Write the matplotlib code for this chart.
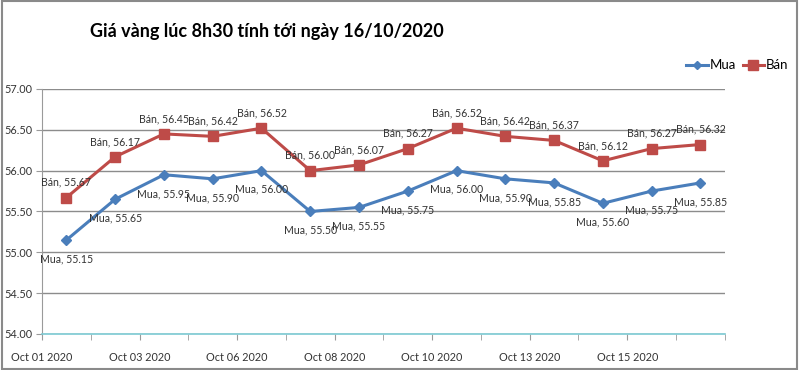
import matplotlib
matplotlib.use("Agg")
import matplotlib.pyplot as plt
from matplotlib.patches import Rectangle
from matplotlib.lines import Line2D

plt.rcParams['font.family'] = ['Lato', 'DejaVu Sans']

title = "Giá vàng lúc 8h30 tính tới ngày 16/10/2020"
series_names = ["Mua", "Bán"]
mua = [55.15, 55.65, 55.95, 55.90, 56.00, 55.50, 55.55, 55.75, 56.00, 55.90, 55.85, 55.60, 55.75, 55.85]
ban = [55.67, 56.17, 56.45, 56.42, 56.52, 56.00, 56.07, 56.27, 56.52, 56.42, 56.37, 56.12, 56.27, 56.32]
x_labels = ["Oct 01 2020", "Oct 03 2020", "Oct 06 2020", "Oct 08 2020",
            "Oct 10 2020", "Oct 13 2020", "Oct 15 2020"]
y_ticks = [54.0, 54.5, 55.0, 55.5, 56.0, 56.5, 57.0]

blue = "#4A7EBB"
red = "#BE4B48"

fig = plt.figure(figsize=(8, 3.7), dpi=100)
ax = fig.add_axes([0.0525, 0.0973, 0.8535, 0.6622])

n = len(mua)
xs = [i + 0.5 for i in range(n)]

ax.plot(xs, mua, color=blue, lw=2.2, marker='D', ms=5.5, mfc=blue, mec=blue, zorder=3)
ax.plot(xs, ban, color=red, lw=2.2, marker='s', ms=7, mfc=red, mec=red, zorder=3)

for x, v in zip(xs, ban):
    ax.annotate(f"{series_names[1]}, {v:.2f}", (x, v), xytext=(0, 11), textcoords='offset points',
                ha='center', va='center', fontsize=7.6, color='#333333', zorder=4)
for x, v in zip(xs, mua):
    ax.annotate(f"{series_names[0]}, {v:.2f}", (x, v), xytext=(0, -13.5), textcoords='offset points',
                ha='center', va='center', fontsize=7.6, color='#333333', zorder=4)

ax.set_xlim(0, n)
ax.set_ylim(54, 57)
ax.set_yticks(y_ticks)
ax.set_yticklabels([f"{t:.2f}" for t in y_ticks], fontsize=7.8, color='#333333')
ax.set_xticks(list(range(0, n + 1)), minor=True)
ax.set_xticks(list(range(0, n, 2)))
ax.set_xticklabels(x_labels, fontsize=7.8, color='#333333')
ax.tick_params(axis='x', which='both', length=4, color='#9a9a9a', pad=9)
ax.tick_params(axis='y', length=4, color='#9a9a9a', pad=3)

ax.grid(axis='y', color='#8c8c8c', lw=1)
ax.set_axisbelow(True)
for s in ['top', 'right']:
    ax.spines[s].set_visible(False)
ax.spines['left'].set_color('#9a9a9a')
ax.spines['bottom'].set_color('#7ccad3')
ax.spines['bottom'].set_linewidth(1.2)

fig.text(0.333, 0.915, title, ha='center', va='center', fontsize=13, fontweight='bold', color='black')

handles = [Line2D([], [], color=blue, lw=2.2, marker='D', ms=4.5),
           Line2D([], [], color=red, lw=2.2, marker='s', ms=6.5)]
fig.legend(handles, series_names, loc='center right', bbox_to_anchor=(1.0, 0.824), ncol=2,
           frameon=False, fontsize=9.5, handlelength=1.6, handletextpad=0.15, columnspacing=0.5)

fig.add_artist(Rectangle((0.002, 0.003), 0.994, 0.994, transform=fig.transFigure,
                         fill=False, edgecolor='#8a8a8a', lw=1.5))

fig.savefig("out.png", dpi=100)
